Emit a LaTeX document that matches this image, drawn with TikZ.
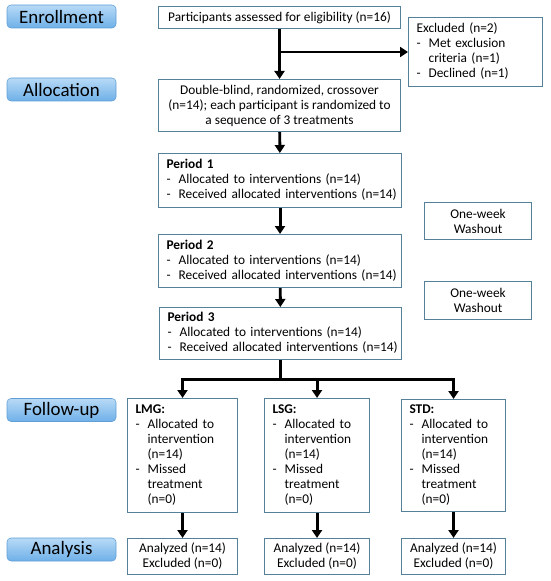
\documentclass[tikz,border=0pt]{standalone}
\usepackage{fontspec}
\setmainfont{Carlito}
\usepackage{xcolor}
\usepackage{tikz}
\usetikzlibrary{arrows.meta,positioning,calc}

\definecolor{boxline}{RGB}{84,128,152}
\definecolor{stageline}{RGB}{96,158,212}
\definecolor{stagetop}{RGB}{184,218,246}
\definecolor{stagebot}{RGB}{110,176,232}

\tikzstyle{stage}=[draw=stageline, top color=stagetop, bottom color=stagebot, rounded corners=3pt,
  minimum width=81.75pt, minimum height=17.25pt, inner sep=0pt, font=\fontsize{14.2}{16}\selectfont]
\tikzstyle{box}=[draw=boxline, line width=0.8pt, fill=white, anchor=north west, inner sep=0pt,
  font=\fontsize{10}{11.25}\selectfont]
\tikzstyle{lbox}=[box, align=left, inner xsep=6pt]
\tikzstyle{arr}=[-{Triangle[width=7.5pt,length=6pt]}, line width=2.2pt]

\begin{document}
\begin{tikzpicture}[x=0.75pt, y=-0.75pt]
  \useasboundingbox (0,0) rectangle (550,581);

  % ── stage labels ───────────────────────────────────────────────────────────
  \node[stage] (sEnrol)  at (61.5, 16.5) {Enrollment};
  \node[stage] (sAlloc)  at (61.5, 89.5) {Allocation};
  \node[stage] (sFollow) at (61.5,410.0) {Follow-up};
  \node[stage] (sAnaly)  at (61.5,549.5) {Analysis};

  % ── enrollment / allocation ────────────────────────────────────────────────
  \node[box, minimum width=181.5pt, minimum height=16.5pt] (enrol) at (158,6)
    {Participants assessed for eligibility (n=16)};
  \node[lbox, text width=88.5pt, minimum height=51.75pt] (excl) at (408,17)
    {\begin{tabular}{@{}l@{\hspace{6pt}}l@{}}
      \multicolumn{2}{@{}l@{}}{Excluded (n=2)}\\
      - & Met exclusion\\
        & criteria (n=1)\\
      - & Declined (n=1)
    \end{tabular}};
  \node[box, align=center, minimum width=181.5pt, minimum height=39pt] (alloc) at (158,79)
    {Double-blind, randomized, crossover\\(n=14); each participant is randomized to\\a sequence of 3 treatments};

  % ── periods ────────────────────────────────────────────────────────────────
  \node[lbox, text width=170.25pt, minimum height=40.5pt] (per1) at (158,153)
    {\begin{tabular}{@{}l@{\hspace{6pt}}l@{}}
      \multicolumn{2}{@{}l@{}}{\textbf{Period 1}}\\
      - & Allocated to interventions (n=14)\\
      - & Received allocated interventions (n=14)
    \end{tabular}};
  \node[lbox, text width=170.25pt, minimum height=39.75pt] (per2) at (158,234)
    {\begin{tabular}{@{}l@{\hspace{6pt}}l@{}}
      \multicolumn{2}{@{}l@{}}{\textbf{Period 2}}\\
      - & Allocated to interventions (n=14)\\
      - & Received allocated interventions (n=14)
    \end{tabular}};
  \node[lbox, text width=169.5pt, minimum height=39pt] (per3) at (159,307)
    {\begin{tabular}{@{}l@{\hspace{6pt}}l@{}}
      \multicolumn{2}{@{}l@{}}{\textbf{Period 3}}\\
      - & Allocated to interventions (n=14)\\
      - & Received allocated interventions (n=14)
    \end{tabular}};
  \node[box, align=center, minimum width=80.25pt, minimum height=27.75pt] (wash1) at (424,202)
    {One-week\\Washout};
  \node[box, align=center, minimum width=80.25pt, minimum height=28.5pt] (wash2) at (424,281)
    {One-week\\Washout};

  % ── follow-up ──────────────────────────────────────────────────────────────
  \node[lbox, text width=70.5pt, minimum height=85.5pt] (lmg) at (127,398)
    {\begin{tabular}{@{}l@{\hspace{6pt}}l@{}}
      \multicolumn{2}{@{}l@{}}{\textbf{LMG:}}\\
      - & Allocated to\\ & intervention\\ & (n=14)\\
      - & Missed\\ & treatment\\ & (n=0)
    \end{tabular}};
  \node[lbox, text width=66.75pt, minimum height=85.5pt] (lsg) at (264,398)
    {\begin{tabular}{@{}l@{\hspace{6pt}}l@{}}
      \multicolumn{2}{@{}l@{}}{\textbf{LSG:}}\\
      - & Allocated to\\ & intervention\\ & (n=14)\\
      - & Missed\\ & treatment\\ & (n=0)
    \end{tabular}};
  \node[lbox, text width=66pt, minimum height=84pt] (std) at (401,399)
    {\begin{tabular}{@{}l@{\hspace{6pt}}l@{}}
      \multicolumn{2}{@{}l@{}}{\textbf{STD:}}\\
      - & Allocated to\\ & intervention\\ & (n=14)\\
      - & Missed\\ & treatment\\ & (n=0)
    \end{tabular}};

  % ── analysis ───────────────────────────────────────────────────────────────
  \node[box, align=center, minimum width=82.5pt, minimum height=27pt] (ana1) at (127,538)
    {Analyzed (n=14)\\Excluded (n=0)};
  \node[box, align=center, minimum width=78.75pt, minimum height=27pt] (ana2) at (264,538)
    {Analyzed (n=14)\\Excluded (n=0)};
  \node[box, align=center, minimum width=78pt, minimum height=27pt] (ana3) at (401,538)
    {Analyzed (n=14)\\Excluded (n=0)};

  % ── connectors ─────────────────────────────────────────────────────────────
  \coordinate (split) at (enrol.south |- excl.west);
  \coordinate (fork) at ($(per3.south)+(0,19)$);
  \draw[arr] (enrol) -- (alloc);
  \draw[arr] (split) -- (excl);
  \draw[arr] (alloc) -- (per1);
  \draw[arr] (per1) -- (per2);
  \draw[arr] (per2) -- (per3);
  \draw[line width=2.2pt] (per3) -- (fork);
  \draw[arr] (fork) -| (lmg);
  \draw[arr] (fork) -| (lsg);
  \draw[arr] (fork) -| (std);
  \draw[arr] (lmg) -- (ana1);
  \draw[arr] (lsg) -- (ana2);
  \draw[arr] (std) -- (ana3);

\end{tikzpicture}
\end{document}
